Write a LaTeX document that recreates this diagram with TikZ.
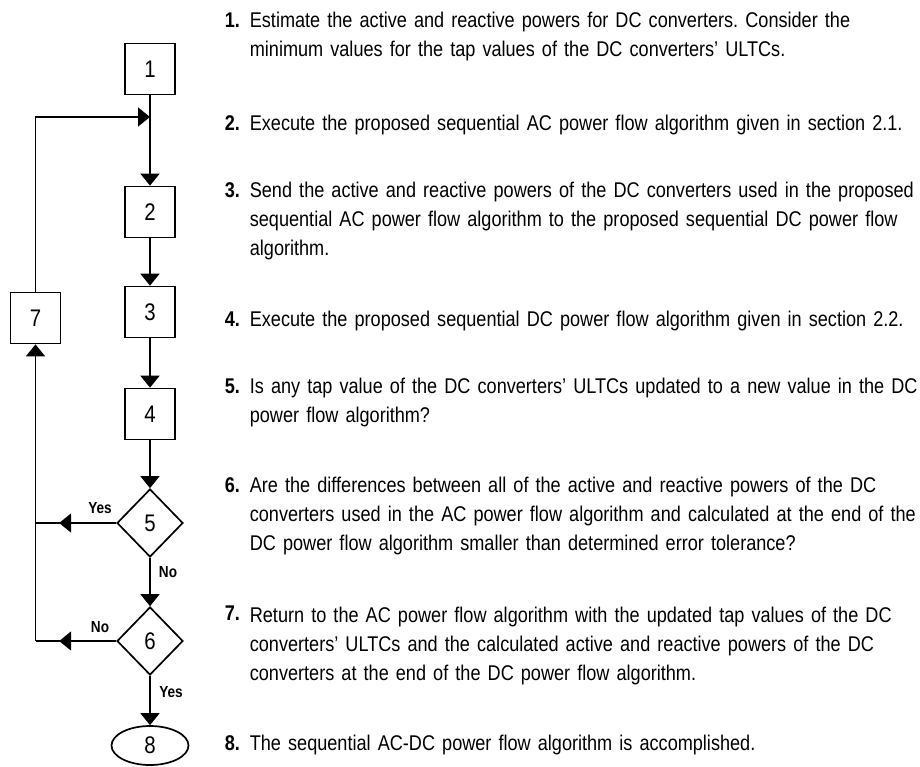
\documentclass[tikz,border=0pt]{standalone}
\usepackage{fontspec}
\setmainfont[FakeStretch=0.85,WordSpace=0.9]{Liberation Sans}
\usetikzlibrary{arrows.meta,shapes.geometric,decorations.markings}

\begin{document}
\frenchspacing
\begin{tikzpicture}[x=1pt,y=-1pt,
  line width=1.7pt,
  stepbox/.style={draw,rectangle,minimum width=50pt,minimum height=51pt,inner sep=0pt,
    font=\fontsize{24}{28}\selectfont},
  decision/.style={draw,diamond,minimum width=66pt,minimum height=68pt,inner sep=0pt,
    font=\fontsize{24}{28}\selectfont},
  terminal/.style={draw,ellipse,minimum width=77pt,minimum height=39pt,inner sep=0pt,
    font=\fontsize{24}{28}\selectfont},
  tip/.tip={Triangle[length=12pt,width=19pt]},
  arr/.style={-tip},
  midarr/.style={postaction={decorate},
    decoration={markings,mark=at position #1 with {\arrow{tip}}}},
  branch/.style={inner sep=0pt,font=\bfseries\fontsize{16}{18}\selectfont},
  num/.style={anchor=base west,inner sep=0pt,font=\bfseries\fontsize{21.3}{29}\selectfont},
  desc/.style={anchor=base west,inner sep=0pt,text width=700pt,align=left,
    font=\fontsize{21.3}{29}\selectfont}
]
\useasboundingbox (0,0) rectangle (920,766);

% flowchart
\node[stepbox] (b1) at (150,69) {1};
\node[stepbox] (b2) at (150,212) {2};
\node[stepbox] (b3) at (150,312) {3};
\node[stepbox] (b4) at (150,414) {4};
\node[stepbox] (b7) at (35.5,318) {7};
\node[decision] (d5) at (150,523) {5};
\node[decision] (d6) at (150,641) {6};
\node[terminal] (e8) at (150,745.5) {8};
\coordinate (j) at (150,117);
\coordinate (y5) at (35.5,523);
\coordinate (y6) at (35.5,641);

\draw[arr] (b1) -- (b2);
\draw[arr] (b2) -- (b3);
\draw[arr] (b3) -- (b4);
\draw[arr] (b4) -- (d5);
\draw[arr] (d5) -- (d6);
\draw[arr] (d6) -- (e8);
\draw[arr] (b7.north) |- (j);
\draw[midarr=57pt] (d5.west) -- (y5);
\draw[midarr=57pt] (d6.west) -- (y6);
\draw (y6) -- (y5);
\draw[arr] (y5) -- (b7.south);

\node[branch] (l5y) at (100,508) {Yes};
\node[branch] (l5n) at (168,572) {No};
\node[branch] (l6n) at (100,627) {No};
\node[branch] (l6y) at (171,692) {Yes};

% step descriptions
\node[num] (n1) at (224,27) {1.};
\node[desc] (t1) at (249,27) {Estimate the active and reactive powers for DC converters. Consider the\\
  minimum values for the tap values of the DC converters’ ULTCs.};
\node[num] (n2) at (224,130) {2.};
\node[desc] (t2) at (249,130) {Execute the proposed sequential AC power flow algorithm given in section 2.1.};
\node[num] (n3) at (224,197) {3.};
\node[desc] (t3) at (249,197) {Send the active and reactive powers of the DC converters used in the proposed\\
  sequential AC power flow algorithm to the proposed sequential DC power flow\\
  algorithm.};
\node[num] (n4) at (224,326) {4.};
\node[desc] (t4) at (249,326) {Execute the proposed sequential DC power flow algorithm given in section 2.2.};
\node[num] (n5) at (224,393) {5.};
\node[desc] (t5) at (249,393) {Is any tap value of the DC converters’ ULTCs updated to a new value in the DC\\
  power flow algorithm?};
\node[num] (n6) at (224,492) {6.};
\node[desc] (t6) at (249,492) {Are the differences between all of the active and reactive powers of the DC\\
  converters used in the AC power flow algorithm and calculated at the end of the\\
  DC power flow algorithm smaller than determined error tolerance?};
\node[num] (n7) at (224,620) {7.};
\node[desc] (t7) at (249,622) {Return to the AC power flow algorithm with the updated tap values of the DC\\
  converters’ ULTCs and the calculated active and reactive powers of the DC\\
  converters at the end of the DC power flow algorithm.};
\node[num] (n8) at (224,750) {8.};
\node[desc] (t8) at (249,750) {The sequential AC-DC power flow algorithm is accomplished.};
\end{tikzpicture}
\end{document}
